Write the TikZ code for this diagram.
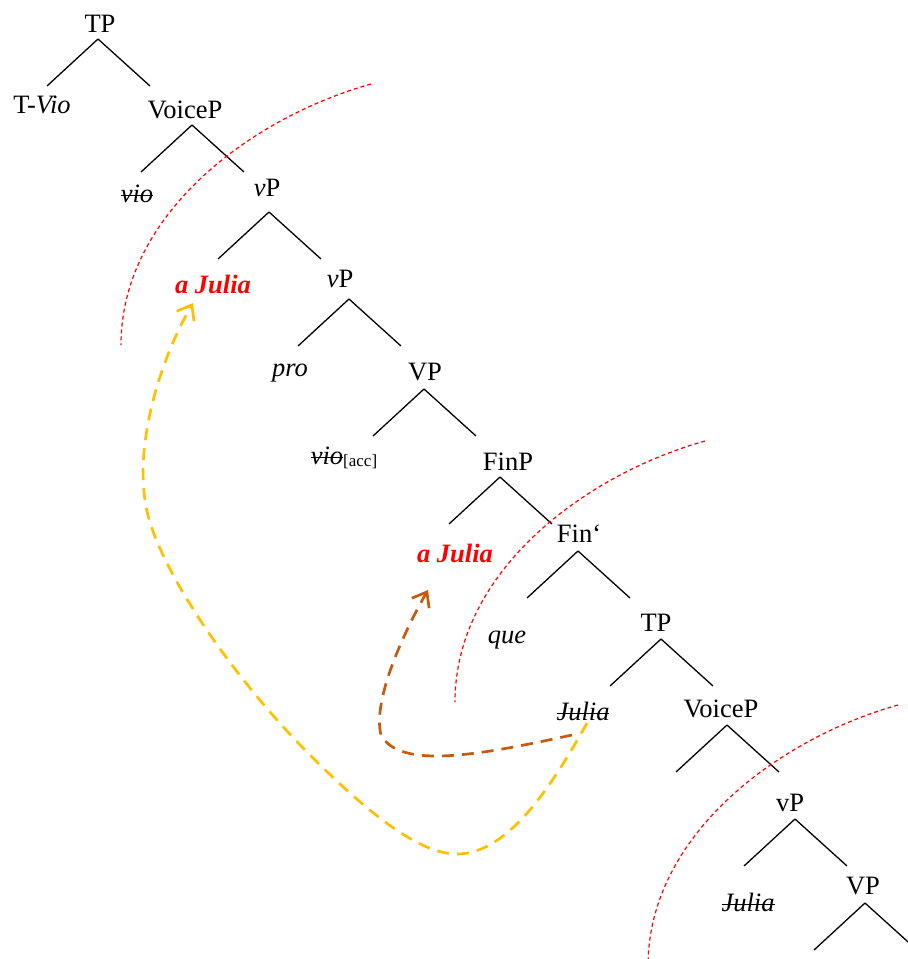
\documentclass[tikz,border=0pt]{standalone}
\usepackage{fontspec}
\setmainfont{Liberation Serif}
\usetikzlibrary{arrows.meta}
\definecolor{moveyellow}{HTML}{FFC000}
\definecolor{movebrown}{HTML}{C55A11}
\tikzset{
  lab/.style={anchor=base, inner sep=0pt, font=\fontsize{26.5}{30}\selectfont},
  branch/.style={line width=1.3pt},
  phase/.style={red, line width=1.2pt, dash pattern=on 4pt off 3pt},
  move/.style={line width=2.7pt, dash pattern=on 12pt off 8pt,
    -{Straight Barb[length=13pt,width=20pt]}}
}
\newcommand{\aJ}{\textcolor{red}{\textbf{\textit{a Julia}}}}
\newcommand{\strk}[1]{\setbox0\hbox{#1}\rlap{\rule[0.21em]{\wd0}{1.3pt}}\box0}
\begin{document}
\begin{tikzpicture}[x=1pt, y=-1pt]
  \useasboundingbox (0,0) rectangle (908,959);
  % Data: name/x/y(baseline)/label
  \foreach \name/\x/\y/\txt in {
    tpa/100/32/TP,
    tvio/42/113/{T-\textit{Vio}},
    voicea/185/118/VoiceP,
    vioa/137/202/{\strk{\textit{vio}}},
    vpa/267/196/{\textit{v}P},
    aja/213/293/{\aJ},
    vpb/340/287/{\textit{v}P},
    pro/290/376/{\textit{pro}},
    vpc/425/380/VP,
    viob/344/464/{\strk{\textit{vio}}\raisebox{-2pt}{\fontsize{17}{20}\selectfont[acc]}},
    finp/508/470/FinP,
    ajb/455/562/{\aJ},
    finbar/579/542/{Fin‘},
    que/507/643/{\textit{que}},
    tpb/656/631/TP,
    jula/583/720/{\strk{\textit{Julia}}},
    voiceb/721/717/VoiceP,
    vpd/790/811/vP,
    julb/748/911/{\strk{\textit{Julia}}},
    vpe/863/894/VP} {
    \node[lab] (\name) at (\x,\y) {\txt};
  }
  % branches: node/xoffset/yoffset of the apex
  \foreach \n/\dx/\dy in {
    tpa/-2/7, voicea/7/7, vpa/2/16, vpb/9/12, vpc/-1/9,
    finp/-8/7, finbar/-1/9, tpb/5/8, voiceb/6/8, vpd/5/8, vpe/2/9} {
    \draw[branch] ([shift={(\dx,\dy)}]\n.base) -- ++(-51,47);
    \draw[branch] ([shift={(\dx,\dy)}]\n.base) -- ++(52,47);
  }
  % phase boundaries
  \foreach \sx/\sy in {0/0, 334/357, 527/621}
    \draw[phase, shift={(\sx,\sy)}] (371,84) .. controls (250,118) and (121,215) .. (121,345);
  % movement arrows
  \draw[move, moveyellow] ([shift={(4,3)}]jula.base)
    .. controls (555,780) and (510,854) .. (457,854)
    .. controls (420,854) and (370,815) .. (310,755)
    .. controls (230,675) and (152,560) .. (145,500)
    .. controls (136,440) and (160,360) .. ([shift={(-20,10)}]aja.base);
  \draw[move, movebrown] ([shift={(-11,15)}]jula.base)
    .. controls (480,755) and (400,770) .. (381,735)
    .. controls (372,700) and (405,630) .. ([shift={(-27,28)}]ajb.base);
\end{tikzpicture}
\end{document}
